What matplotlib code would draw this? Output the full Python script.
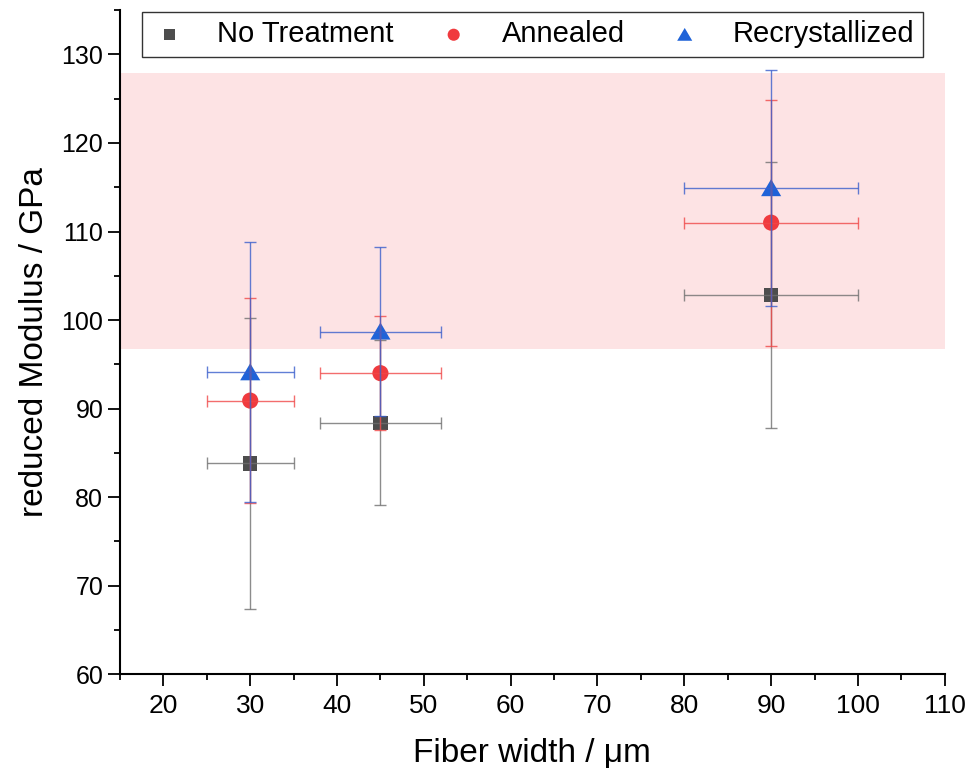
import matplotlib
matplotlib.use("Agg")
import matplotlib.pyplot as plt
from matplotlib.ticker import MultipleLocator
from matplotlib.path import Path

plt.rcParams['font.family'] = ['Liberation Sans', 'DejaVu Sans']

widths = [30, 45, 90]
width_err = [5, 7, 10]

nt_vals = [83.8, 88.4, 102.8]
nt_err = [16.4, 9.3, 15.0]
an_vals = [90.9, 94.0, 111.0]
an_err = [11.6, 6.4, 13.9]
rc_vals = [94.1, 98.7, 114.9]
rc_err = [14.7, 9.5, 13.3]

band_low, band_high = 96.7, 127.9

labels = ["No Treatment", "Annealed", "Recrystallized"]
colors = ["#4d4d4d", "#f03a3e", "#1f63d8"]
ecolors = ["#707070", "#f04848", "#3a5fcc"]

tri = Path([(-1, -0.8), (1, -0.8), (0, 0.9), (-1, -0.8)],
           [Path.MOVETO, Path.LINETO, Path.LINETO, Path.CLOSEPOLY])
markers = ["s", "o", tri]
sizes = [105, 135, 210]

fig = plt.figure(figsize=(9.7, 7.83), dpi=100)
ax = fig.add_axes([0.1237, 0.139, 0.974 - 0.1237, 0.987 - 0.139])

ax.axhspan(band_low, band_high, color="#fde3e4", zorder=0, lw=0)

series = [nt_vals, an_vals, rc_vals]
errs = [nt_err, an_err, rc_err]
handles = []
for vals, err, lab, c, ec, m, s in zip(series, errs, labels, colors, ecolors, markers, sizes):
    h = ax.scatter(widths, vals, marker=m, s=s, color=c, zorder=3, label=lab,
                   edgecolors="none")
    ax.errorbar(widths, vals, yerr=err, xerr=width_err, fmt="none",
                ecolor=ec, elinewidth=1.0, capsize=4.5, capthick=1.0, alpha=0.8, zorder=4)
    handles.append(h)

ax.set_xlim(15, 110)
ax.set_ylim(60, 135)
ax.xaxis.set_major_locator(MultipleLocator(10))
ax.xaxis.set_minor_locator(MultipleLocator(5))
ax.yaxis.set_major_locator(MultipleLocator(10))
ax.yaxis.set_minor_locator(MultipleLocator(5))
ax.set_yticks(range(60, 131, 10))
ax.tick_params(which="major", direction="out", length=8.5, width=1.3)
ax.tick_params(which="minor", direction="out", length=4.5, width=1.3)
ax.tick_params(axis="y", which="major", labelsize=18)
ax.tick_params(axis="x", which="major", labelsize=19, pad=6)
for sp in ["top", "right"]:
    ax.spines[sp].set_visible(False)
for sp in ["left", "bottom"]:
    ax.spines[sp].set_linewidth(1.5)

ax.set_xlabel("Fiber width / μm", fontsize=24, labelpad=14)
ax.set_ylabel("reduced Modulus / GPa", fontsize=24, labelpad=8)

leg = ax.legend(handles=handles, labels=labels, ncol=3, loc="upper center",
                bbox_to_anchor=(0.5, 1.0), borderaxespad=0.05, fontsize=21,
                frameon=True, fancybox=False, edgecolor="black", markerscale=0.75,
                columnspacing=1.4, handletextpad=1.0, borderpad=0.3, handlelength=1.3)
leg.get_frame().set_linewidth(1.0)

fig.savefig("out.png", dpi=100)
